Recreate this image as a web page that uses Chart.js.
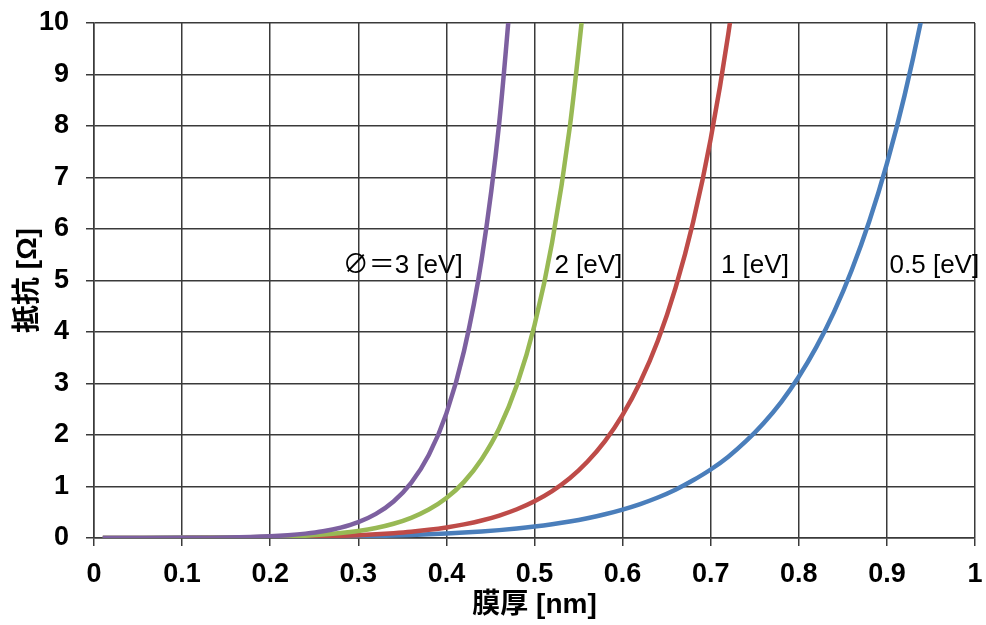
<!DOCTYPE html>
<html lang="ja">
<head>
<meta charset="utf-8">
<title>膜厚と抵抗</title>
<script src="https://cdn.jsdelivr.net/npm/chart.js@4.4.1/dist/chart.umd.min.js"></script>
<style>
  html, body { margin: 0; padding: 0; background: #fff; }
  #wrap { width: 986px; height: 625px; }
</style>
</head>
<body>
<div id="wrap"><canvas id="resistanceChart" width="986" height="625"></canvas></div>
<script>
// Film thickness [nm] shared by every curve
const thickness = [0.01, 0.05, 0.1, 0.15, 0.2, 0.22, 0.24, 0.26, 0.28, 0.3, 0.32, 0.34, 0.36, 0.38,
  0.4, 0.42, 0.44, 0.46, 0.48, 0.5, 0.52, 0.54, 0.56, 0.58, 0.6, 0.62, 0.64, 0.66, 0.68, 0.7,
  0.72, 0.74, 0.76, 0.78, 0.8, 0.82, 0.84, 0.86, 0.88, 0.9, 0.92, 0.94, 0.96];

// Resistance [Ω] per barrier height; a curve stops once it leaves the top of the plot
const resistance05 = [0.0001, 0.0009, 0.0025, 0.0053, 0.0101, 0.0129, 0.0163, 0.0204, 0.0253, 0.0314,
  0.0387, 0.0475, 0.0581, 0.071, 0.0863, 0.105, 0.127, 0.153, 0.185, 0.223, 0.268, 0.321, 0.385,
  0.461, 0.552, 0.659, 0.786, 0.937, 1.12, 1.33, 1.58, 1.88, 2.23, 2.64, 3.13, 3.71, 4.39, 5.2,
  6.15, 7.27, 8.59, 10.15, 11.98];
const resistance1 = [0.0001, 0.0007, 0.0024, 0.0059, 0.0132, 0.0178, 0.0239, 0.0317, 0.0419, 0.0551,
  0.0722, 0.0942, 0.122, 0.159, 0.205, 0.264, 0.339, 0.436, 0.558, 0.713, 0.91, 1.16, 1.48, 1.88,
  2.39, 3.03, 3.83, 4.85, 6.13, 7.75, 9.79, 12.35];
const resistance2 = [0.0001, 0.0006, 0.0025, 0.0078, 0.0214, 0.0315, 0.0459, 0.0664, 0.0955, 0.137,
  0.195, 0.277, 0.392, 0.552, 0.776, 1.09, 1.53, 2.13, 2.97, 4.13, 5.74, 7.97, 11.04];
const resistance3 = [0.0001, 0.0006, 0.003, 0.0107, 0.0348, 0.0546, 0.0849, 0.131, 0.202, 0.308,
  0.468, 0.709, 1.07, 1.61, 2.42, 3.63, 5.41, 8.07, 12.01];

const curveLabels = ['0.5 [eV]', '1 [eV]', '2 [eV]', '∅＝3 [eV]'];
const xTickLabels = ['0', '0.1', '0.2', '0.3', '0.4', '0.5', '0.6', '0.7', '0.8', '0.9', '1'];
const yTickLabels = ['0', '1', '2', '3', '4', '5', '6', '7', '8', '9', '10'];

// where each curve name sits, in axis units (left edge, vertical middle)
const labelAnchors = [
  { x: 0.903, y: 5.28 },
  { x: 0.7116, y: 5.28 },
  { x: 0.5226, y: 5.28 },
  { x: 0.2823, y: 5.28 }
];

const lineColors = ['#4A7EBB', '#BE4B48', '#98B954', '#7D60A0'];
const gridColor = '#3a3a3a';
const latin = '"Liberation Sans", Arial, "Noto Sans CJK JP", sans-serif';

function toPoints(values) {
  return values.map((v, i) => ({ x: thickness[i], y: v }));
}

// Writes the barrier-height names next to their curves
const curveNamePlugin = {
  id: 'curveNames',
  afterDatasetsDraw(chart) {
    const { ctx, scales } = chart;
    ctx.save();
    ctx.font = '26px ' + latin;
    ctx.fillStyle = '#000';
    ctx.textAlign = 'left';
    ctx.textBaseline = 'middle';
    curveLabels.forEach((text, i) => {
      const a = labelAnchors[i];
      ctx.fillText(text, scales.x.getPixelForValue(a.x), scales.y.getPixelForValue(a.y));
    });
    ctx.restore();
  }
};

// fixed axis box sizes; tick label overhang is covered by layout padding instead
function fixBox(size) {
  return (scale) => {
    if (scale.isHorizontal()) scale.height = size; else scale.width = size;
    scale.paddingTop = 0;
    scale.paddingBottom = 0;
    scale.paddingLeft = 0;
    scale.paddingRight = 0;
  };
}

const series = [resistance05, resistance1, resistance2, resistance3];

new Chart(document.getElementById('resistanceChart'), {
  type: 'line',
  data: {
    datasets: series.map((values, i) => ({
      label: curveLabels[i],
      data: toPoints(values),
      borderColor: lineColors[i],
      backgroundColor: lineColors[i],
      borderWidth: 4.5,
      pointRadius: 0,
      cubicInterpolationMode: 'monotone',
      order: series.length - i
    }))
  },
  options: {
    responsive: false,
    animation: false,
    devicePixelRatio: 1,
    layout: { padding: { top: 23, right: 11, left: 0, bottom: 0 } },
    plugins: {
      legend: { display: false },
      tooltip: { enabled: false }
    },
    scales: {
      x: {
        type: 'linear',
        min: 0,
        max: 1,
        ticks: {
          stepSize: 0.1,
          padding: 12,
          color: '#000',
          font: { family: latin, size: 27, weight: 'bold' },
          callback: (v, i) => xTickLabels[i]
        },
        grid: { color: gridColor, lineWidth: 1.5, tickLength: 8 },
        border: { color: gridColor, width: 1.5 },
        title: {
          display: true,
          text: '膜厚 [nm]',
          color: '#000',
          font: { family: latin, size: 28, weight: 'bold' },
          padding: { top: 0, bottom: 3 }
        },
        afterFit: fixBox(87)
      },
      y: {
        min: 0,
        max: 10,
        ticks: {
          stepSize: 1,
          padding: 17,
          color: '#000',
          font: { family: latin, size: 27, weight: 'bold' },
          callback: (v, i) => yTickLabels[i]
        },
        grid: { color: gridColor, lineWidth: 1.5, tickLength: 8 },
        border: { color: gridColor, width: 1.5 },
        title: {
          display: true,
          text: '抵抗 [Ω]',
          color: '#000',
          font: { family: latin, size: 28, weight: 'bold' },
          padding: { top: 11, bottom: 0 }
        },
        afterFit: fixBox(94)
      }
    }
  },
  plugins: [curveNamePlugin]
});
</script>
</body>
</html>
